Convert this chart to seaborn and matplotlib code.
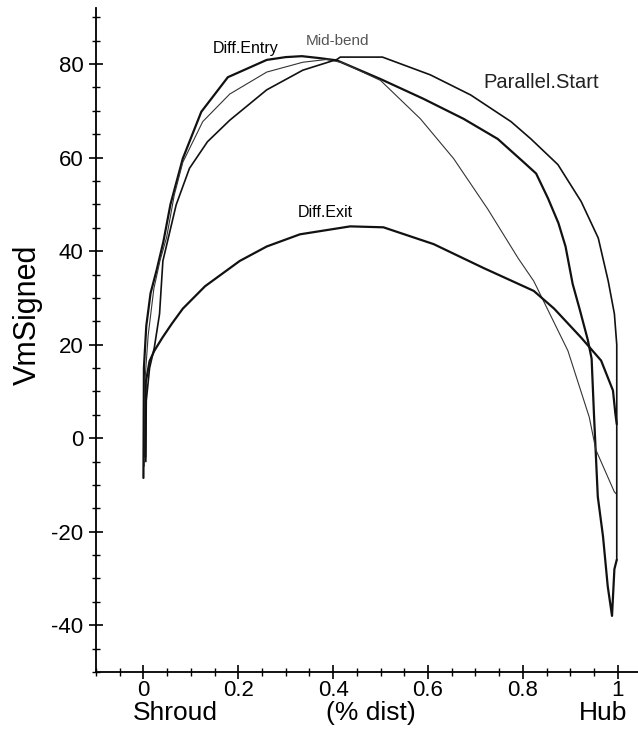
import numpy as np
import pandas as pd
import matplotlib
matplotlib.use("Agg")
import matplotlib.pyplot as plt
import matplotlib.transforms as mtransforms
from matplotlib.ticker import MultipleLocator, FixedLocator, FixedFormatter
import seaborn as sns

# ---- data ----
diff_entry_x = [0.0, 0.001, 0.006, 0.015, 0.028, 0.042, 0.057, 0.083, 0.122, 0.178, 0.26, 0.30,
                0.334, 0.37, 0.408, 0.50, 0.59, 0.675, 0.747, 0.802, 0.828, 0.853, 0.875, 0.89,
                0.905, 0.92, 0.937, 0.945, 0.95, 0.958, 0.969, 0.979, 0.988, 0.993, 0.998]
diff_entry_y = [-8.5, 15, 24, 31, 36, 42, 50, 59.8, 69.8, 77.2, 80.9, 81.5,
                81.7, 81.3, 80.8, 76.8, 72.6, 68.3, 64, 59, 56.6, 51.3, 46, 41,
                33, 27.5, 21, 17, 5, -12.5, -21, -31.7, -38, -28, -26]

mid_bend_x = [0.002, 0.003, 0.01, 0.022, 0.035, 0.049, 0.065, 0.083, 0.125, 0.182, 0.26, 0.336,
              0.387, 0.42, 0.5, 0.584, 0.654, 0.726, 0.79, 0.823, 0.895, 0.94, 0.954, 0.993, 0.998]
mid_bend_y = [-6, 12, 22, 32, 38, 43, 52, 59, 67.7, 73.6, 78.3, 80.4,
              81, 80.3, 76.5, 68.3, 59.8, 49, 38.5, 33.6, 18.7, 4.5, -2.5, -11.5, -12]

parallel_start_x = [0.005, 0.006, 0.013, 0.023, 0.034, 0.041, 0.069, 0.097, 0.135, 0.182, 0.26, 0.336,
                    0.408, 0.415, 0.504, 0.605, 0.69, 0.775, 0.817, 0.874, 0.923, 0.959, 0.98,
                    0.993, 0.998, 0.998]
parallel_start_y = [-5, 8, 15, 19.4, 26.6, 37.9, 49.9, 57.7, 63.4, 68, 74.5, 78.7,
                    81, 81.5, 81.5, 77.7, 73.4, 67.7, 64, 58.5, 50.6, 42.8, 33.6,
                    26.6, 20, -26]

diff_exit_x = [0.004, 0.005, 0.013, 0.023, 0.04, 0.06, 0.083, 0.13, 0.203, 0.26, 0.33, 0.436,
               0.506, 0.612, 0.717, 0.823, 0.866, 0.923, 0.965, 0.99, 0.995, 0.998]
diff_exit_y = [-4, 12, 16.5, 18.7, 21.5, 24.5, 27.7, 32.5, 37.9, 41, 43.6, 45.3,
               45.1, 41.5, 36.4, 31.5, 27.7, 21.5, 16.6, 10.2, 5.3, 3]

x_ticks = [0, 0.2, 0.4, 0.6, 0.8, 1.0]
x_tick_labels = ["0", "0.2", "0.4", "0.6", "0.8", "1"]
y_ticks = [-40, -20, 0, 20, 40, 60, 80]
y_tick_labels = ["-40", "-20", "0", "20", "40", "60", "80"]

curve_labels = ["Diff.Entry", "Mid-bend", "Parallel.Start", "Diff.Exit"]

# ---- style ----
sns.set_theme(style="white")
plt.rcParams["font.family"] = ["Liberation Sans", "DejaVu Sans"]
plt.rcParams["axes.unicode_minus"] = False

fig = plt.figure(figsize=(6.38, 7.31), dpi=100)
ax = fig.add_axes([96 / 638, 1 - 672 / 731, (640 - 96) / 638, (672 - 8) / 731])

curves = [
    (diff_entry_x, diff_entry_y, "#111111", 1.6),
    (mid_bend_x, mid_bend_y, "#333333", 0.8),
    (parallel_start_x, parallel_start_y, "#111111", 1.2),
    (diff_exit_x, diff_exit_y, "#111111", 1.6),
]
for (xs, ys, col, lw), name in zip(curves, curve_labels):
    df = pd.DataFrame({"x": xs, "y": ys})
    sns.lineplot(data=df, x="x", y="y", sort=False, estimator=None, color=col,
                 linewidth=lw, ax=ax)

ax.set_xlim(-0.1, 1.047)
ax.set_ylim(-50, 92)

for s in ["top", "right"]:
    ax.spines[s].set_visible(False)
for s in ["left", "bottom"]:
    ax.spines[s].set_color("black")
    ax.spines[s].set_linewidth(1.3)

ax.xaxis.set_major_locator(FixedLocator(x_ticks))
ax.xaxis.set_major_formatter(FixedFormatter(x_tick_labels))
ax.xaxis.set_minor_locator(MultipleLocator(0.05))
ax.yaxis.set_major_locator(FixedLocator(y_ticks))
ax.yaxis.set_major_formatter(FixedFormatter(y_tick_labels))
ax.yaxis.set_minor_locator(MultipleLocator(5))

ax.tick_params(which="major", direction="inout", length=10, width=1.2, color="black",
               labelsize=16, labelcolor="black")
ax.tick_params(axis="x", which="major", pad=1)
ax.tick_params(axis="y", which="major", pad=4)
ax.tick_params(which="minor", direction="inout", length=6, width=1.0, color="black")
ax.tick_params(bottom=True, left=True, which="both")

ax.set_xlabel("")
ax.set_ylabel("VmSigned", fontsize=22, color="black")
ax.yaxis.set_label_coords(-0.097, 0.538)

# bottom axis captions
trans = mtransforms.blended_transform_factory(ax.transData, fig.transFigure)
for xv, txt in [(0.068, "Shroud"), (0.48, "(% dist)"), (0.97, "Hub")]:
    ax.text(xv, 1 - 713 / 731, txt, transform=trans, ha="center", va="center",
            fontsize=19, color="black")

# curve labels
ax.text(0.216, 83.4, curve_labels[0], ha="center", va="center", fontsize=11.5, color="#000000")
ax.text(0.41, 84.9, curve_labels[1], ha="center", va="center", fontsize=11, color="#555555")
ax.text(0.838, 76.0, curve_labels[2], ha="center", va="center", fontsize=14.5, color="#222222")
ax.text(0.383, 48.3, curve_labels[3], ha="center", va="center", fontsize=11.5, color="#000000")

fig.savefig("out.png", dpi=100, facecolor="white")
